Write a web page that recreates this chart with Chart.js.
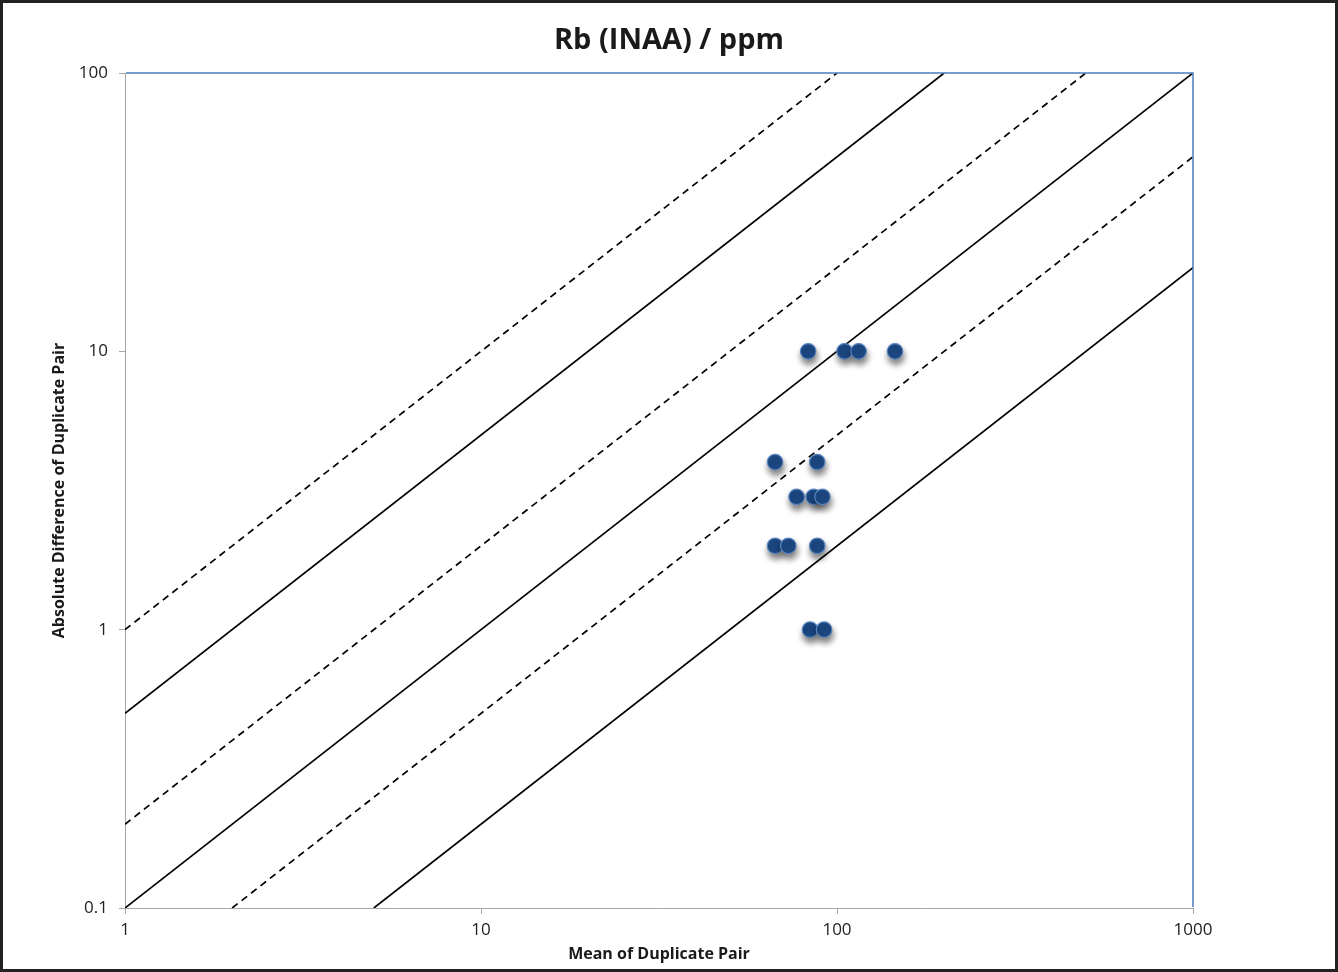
<!DOCTYPE html>
<html>
<head>
<meta charset="utf-8">
<script src="https://cdn.jsdelivr.net/npm/chart.js@4/dist/chart.umd.min.js"></script>
<style>
  html, body { margin: 0; padding: 0; background: #fff; }
  #wrap { width: 1338px; height: 972px; }
</style>
</head>
<body>
<div id="wrap"><canvas id="c" width="1338" height="972"></canvas></div>
<script>
// ---- data ----
const chartTitle = "Rb (INAA) / ppm";
const xAxisTitle = "Mean of Duplicate Pair";
const yAxisTitle = "Absolute Difference of Duplicate Pair";

const meanValues = [83, 105, 115, 145.5, 67, 88, 77, 86, 91, 67, 73, 88, 84, 92];
const diffValues = [10, 10, 10, 10, 4, 4, 3, 3, 3, 2, 2, 2, 1, 1];

const xTickValues = [1, 10, 100, 1000];
const yTickValues = [0.1, 1, 10, 100];

// reference lines (endpoints): difference = k * mean
const line100X = [1, 100];   const line100Y = [1, 100];     // dashed
const line50X  = [1, 200];   const line50Y  = [0.5, 100];   // solid
const line20X  = [1, 500];   const line20Y  = [0.2, 100];   // dashed
const line10X  = [1, 1000];  const line10Y  = [0.1, 100];   // solid
const line5X   = [2, 1000];  const line5Y   = [0.1, 50];    // dashed
const line2X   = [5, 1000];  const line2Y   = [0.1, 20];    // solid

const toPts = (xs, ys) => xs.map((x, i) => ({ x: x, y: ys[i] }));

const lineSets = [
  { xs: line100X, ys: line100Y, dashed: true },
  { xs: line50X,  ys: line50Y,  dashed: false },
  { xs: line20X,  ys: line20Y,  dashed: true },
  { xs: line10X,  ys: line10Y,  dashed: false },
  { xs: line5X,   ys: line5Y,   dashed: true },
  { xs: line2X,   ys: line2Y,   dashed: false }
];

const datasets = [{
  type: 'scatter',
  label: 'Duplicates',
  data: toPts(meanValues, diffValues),
  xAxisID: 'x',
  yAxisID: 'y',
  backgroundColor: '#1d4a86',
  borderColor: '#5b86c0',
  borderWidth: 1.2,
  pointRadius: 7.8,
  pointHoverRadius: 7.8,
  order: 0
}];
lineSets.forEach((s, i) => {
  datasets.push({
    type: 'line',
    label: 'ref' + i,
    data: toPts(s.xs, s.ys),
    xAxisID: 'x',
    yAxisID: 'y',
    borderColor: '#000',
    borderWidth: 1.7,
    borderDash: s.dashed ? [7, 5] : [],
    pointRadius: 0,
    fill: false,
    tension: 0,
    order: 1
  });
});

const FONT = "'Open Sans', 'Liberation Sans', sans-serif";

const framePlugin = {
  id: 'frame',
  beforeDatasetDraw(chart, args) {
    if (args.index === 0) {
      const ctx = chart.ctx;
      ctx.save();
      ctx.shadowColor = 'rgba(0,0,0,0.5)';
      ctx.shadowBlur = 6;
      ctx.shadowOffsetX = 1;
      ctx.shadowOffsetY = 5;
    }
  },
  afterDatasetDraw(chart, args) {
    if (args.index === 0) chart.ctx.restore();
  },
  afterDraw(chart) {
    const ctx = chart.ctx;
    const a = chart.chartArea;
    ctx.save();
    ctx.strokeStyle = '#4a7ebb';
    ctx.lineWidth = 1.5;
    ctx.beginPath();
    ctx.moveTo(a.left + 1, a.top);
    ctx.lineTo(a.right, a.top);
    ctx.lineTo(a.right, a.bottom - 1);
    ctx.stroke();
    ctx.strokeStyle = '#222';
    ctx.lineWidth = 3;
    ctx.strokeRect(1.5, 1.5, chart.width - 3, chart.height - 3);
    ctx.restore();
  }
};

new Chart(document.getElementById('c'), {
  data: { datasets: datasets },
  options: {
    responsive: false,
    animation: false,
    devicePixelRatio: 1,
    layout: { padding: { left: 0, right: 0, top: 0, bottom: 5 } },
    plugins: {
      legend: { display: false },
      tooltip: { enabled: false },
      title: {
        display: true,
        text: chartTitle,
        color: '#1a1a1a',
        font: { family: FONT, size: 29, weight: 'bold' },
        padding: { top: 23, bottom: 15.2 }
      }
    },
    scales: {
      x: {
        type: 'logarithmic',
        position: 'bottom',
        min: 1, max: 1000,
        afterBuildTicks(scale) { scale.ticks = xTickValues.map(v => ({ value: v })); },
        afterFit(scale) { scale.height = 59; },
        ticks: {
          color: '#222',
          font: { family: FONT, size: 17 },
          padding: 6,
          maxRotation: 0,
          autoSkip: false,
          callback: (v) => String(v)
        },
        grid: { display: true, drawOnChartArea: false, drawTicks: true, tickLength: 6, color: '#a6a6a6' },
        border: { display: true, color: '#a6a6a6', width: 1 },
        title: {
          display: true,
          text: xAxisTitle,
          color: '#1a1a1a',
          font: { family: FONT, size: 16, weight: 'bold' },
          padding: { top: 0, bottom: 3 }
        }
      },
      y: {
        type: 'logarithmic',
        position: 'left',
        min: 0.1, max: 100,
        afterBuildTicks(scale) { scale.ticks = yTickValues.map(v => ({ value: v })); },
        afterFit(scale) { scale.width = 125; },
        ticks: {
          color: '#222',
          font: { family: FONT, size: 17 },
          padding: 11,
          autoSkip: false,
          callback: (v) => String(v)
        },
        grid: { display: true, drawOnChartArea: false, drawTicks: true, tickLength: 6, color: '#a6a6a6' },
        border: { display: true, color: '#a6a6a6', width: 1 },
        title: {
          display: true,
          text: yAxisTitle,
          color: '#1a1a1a',
          font: { family: FONT, size: 16, weight: 'bold' },
          padding: { top: 50, bottom: 0 }
        }
      },
      ySpacer: {
        type: 'linear',
        position: 'right',
        display: true,
        afterFit(scale) { scale.width = 145; },
        ticks: { display: false },
        grid: { display: false, drawTicks: false },
        border: { display: false },
        title: { display: false }
      }
    }
  },
  plugins: [framePlugin]
});
</script>
</body>
</html>
